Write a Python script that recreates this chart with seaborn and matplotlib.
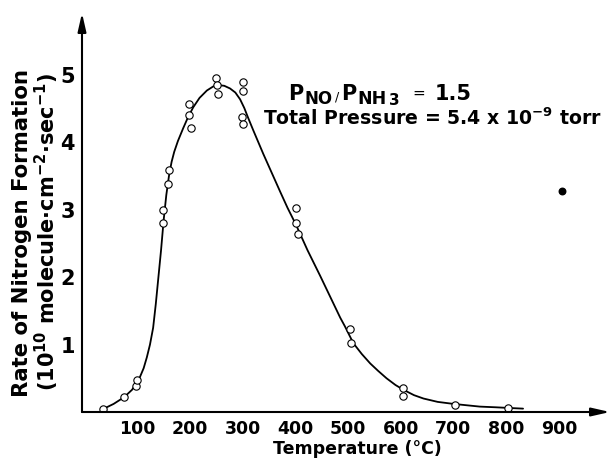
import numpy as np
import pandas as pd
import matplotlib
matplotlib.use("Agg")
import matplotlib.pyplot as plt
import seaborn as sns

# measured points (temperature in C, rate in 1e10 molecule/cm2/s)
temp_pts = [34, 75, 97, 99, 148, 149, 158, 160, 198, 198, 201, 250, 252, 253,
            300, 300, 299, 300, 401, 401, 404, 504, 505, 604, 605, 703, 803]
rate_pts = [0.04, 0.22, 0.38, 0.47, 2.80, 3.00, 3.39, 3.59, 4.57, 4.40, 4.21,
            4.96, 4.85, 4.72, 4.90, 4.77, 4.38, 4.27, 3.03, 2.81, 2.64,
            1.23, 1.02, 0.35, 0.23, 0.11, 0.06]

# hand drawn fit curve
curve_temp = [34, 55, 75, 90, 99, 105, 112, 118, 124, 130, 135, 140, 145, 150,
              155, 160, 165, 170, 177, 187, 196, 206, 218, 232, 244, 254, 265,
              276, 286, 295, 303, 310, 320, 339, 355, 371, 385, 401, 423, 447,
              466, 485, 494, 510, 526, 542, 557, 573, 590, 605, 625, 643, 670,
              700, 725, 750, 780, 805, 832]
curve_rate = [0.04, 0.12, 0.22, 0.33, 0.44, 0.52, 0.65, 0.81, 1.0, 1.25, 1.6,
              2.0, 2.4, 2.85, 3.22, 3.50, 3.71, 3.86, 4.02, 4.21, 4.37, 4.52,
              4.66, 4.77, 4.83, 4.85, 4.84, 4.80, 4.74, 4.64, 4.51, 4.37, 4.18,
              3.83, 3.55, 3.27, 3.03, 2.78, 2.40, 2.02, 1.71, 1.40, 1.27, 1.02,
              0.86, 0.72, 0.61, 0.50, 0.40, 0.33, 0.25, 0.20, 0.15, 0.12, 0.10,
              0.08, 0.07, 0.06, 0.05]

# stray blot on the scan
blot_temp = [905]
blot_rate = [3.28]

x_ticks = [100, 200, 300, 400, 500, 600, 700, 800, 900]
y_ticks = [1, 2, 3, 4, 5]

pts_df = pd.DataFrame({"temp": temp_pts, "rate": rate_pts})
curve_df = pd.DataFrame({"temp": curve_temp, "rate": curve_rate})

sns.set_style("white")
plt.rcParams["font.family"] = ["DejaVu Sans"]
plt.rcParams["mathtext.fontset"] = "dejavusans"
plt.rcParams["text.color"] = "black"
plt.rcParams["xtick.color"] = "black"
plt.rcParams["ytick.color"] = "black"

W, H = 611, 462
fig = plt.figure(figsize=(W / 100, H / 100), dpi=100)
ax = fig.add_axes([82 / W, 50 / H, 528 / W, 399 / H])

sns.lineplot(data=curve_df, x="temp", y="rate", sort=False, color="black",
             linewidth=1.3, ax=ax)
sns.scatterplot(data=pts_df, x="temp", y="rate", marker="o", s=28,
                facecolor="white", edgecolor="black", linewidth=0.8,
                zorder=3, ax=ax)
ax.scatter(blot_temp, blot_rate, s=22, color="black", marker="o", zorder=3)

ax.set_xlim(-5, 997)
ax.set_ylim(0, 5.92)
for s in ax.spines.values():
    s.set_visible(False)

# axes drawn as arrows
arrow = dict(arrowstyle="-|>,head_length=1.1,head_width=0.25", color="black",
             lw=1.5, mutation_scale=10, shrinkA=0, shrinkB=0)
ax.annotate("", xy=(1, 0), xytext=(0, 0), xycoords="axes fraction",
            arrowprops=arrow, annotation_clip=False)
ax.annotate("", xy=(0, 1), xytext=(0, 0), xycoords="axes fraction",
            arrowprops=arrow, annotation_clip=False)

ax.set_xticks(x_ticks)
ax.set_xticklabels([str(t) for t in x_ticks], fontsize=12.5, fontweight="bold")
ax.set_yticks(y_ticks)
ax.set_yticklabels([str(t) for t in y_ticks], fontsize=15, fontweight="bold")
ax.tick_params(axis="both", direction="in", length=10, width=1.3, color="black")
ax.tick_params(axis="x", pad=6)
ax.tick_params(axis="y", pad=5)
ax.set_xlabel("")
ax.set_ylabel("")


def put(x, y, s, size, **kw):
    # place text at a pixel position (from top-left)
    fig.text(x / W, 1 - y / H, s, fontsize=size, **kw)


put(357, 449, "Temperature (°C)", 12.5, ha="center", va="center",
    fontweight="bold")
put(22, 233, "Rate of Nitrogen Formation", 15.3, rotation=90, ha="center",
    va="center", fontweight="bold")
put(47, 232,
    r"(10$^{\mathbf{10}}$ molecule·cm$^{\mathbf{-2}}$·sec$^{\mathbf{-1}}$)",
    15, rotation=90, ha="center", va="center", fontweight="bold")

# P_NO / P_NH3 = 1.5
put(288, 100, "P", 15, ha="left", va="baseline", fontweight="bold")
put(304, 104, "NO", 12, ha="left", va="baseline", fontweight="bold")
put(335, 100, "/", 9, ha="left", va="baseline")
put(341, 100, "P", 15, ha="left", va="baseline", fontweight="bold")
put(357, 104, "NH", 12.5, ha="left", va="baseline", fontweight="bold")
put(389, 105, "3", 11, ha="left", va="baseline", fontweight="bold")
put(412, 98, "=", 11, ha="left", va="baseline")
put(435, 100, "1.5", 15, ha="left", va="baseline", fontweight="bold")

put(263, 125, r"Total Pressure = 5.4 x 10$^{\mathbf{-9}}$ torr", 13.6,
    ha="left", va="baseline", fontweight="bold")

fig.savefig("out.png", dpi=100)
